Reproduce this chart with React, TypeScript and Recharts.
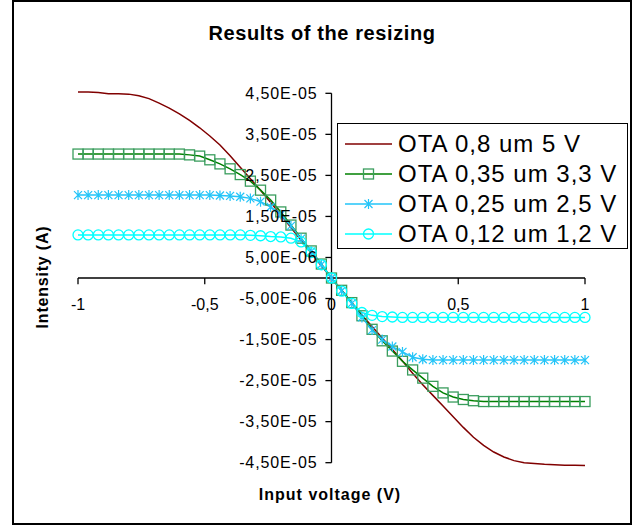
import { LineChart, Line, XAxis, YAxis, ReferenceLine, ReferenceDot } from "recharts";

// input voltage (V)
const voltage = [
  -1, -0.96, -0.92, -0.88, -0.84, -0.8, -0.76, -0.72, -0.68, -0.64, -0.6, -0.56, -0.52,
  -0.48, -0.44, -0.4, -0.36, -0.32, -0.28, -0.24, -0.2, -0.16, -0.12, -0.08, -0.04, 0,
  0.04, 0.08, 0.12, 0.16, 0.2, 0.24, 0.28, 0.32, 0.36, 0.4, 0.44, 0.48, 0.52, 0.56,
  0.6, 0.64, 0.68, 0.72, 0.76, 0.8, 0.84, 0.88, 0.92, 0.96, 1,
];

// output current, in units of 1E-05 A
const ota08 = [
  4.53, 4.53, 4.52, 4.49, 4.49, 4.48, 4.44, 4.37, 4.26, 4.14, 4.0, 3.84, 3.66,
  3.46, 3.24, 2.98, 2.7, 2.42, 2.14, 1.84, 1.54, 1.23, 0.92, 0.61, 0.3, 0,
  -0.3, -0.6, -0.9, -1.18, -1.46, -1.74, -2.02, -2.32, -2.6, -2.86, -3.12, -3.38, -3.64,
  -3.88, -4.08, -4.24, -4.36, -4.45, -4.5, -4.52, -4.54, -4.55, -4.56, -4.56, -4.57,
];
const ota035 = [
  3.02, 3.02, 3.02, 3.02, 3.02, 3.02, 3.02, 3.02, 3.02, 3.02, 3.02, 3.0, 2.97,
  2.88, 2.78, 2.66, 2.52, 2.36, 2.14, 1.9, 1.61, 1.29, 0.97, 0.66, 0.34, 0,
  -0.3, -0.6, -0.92, -1.25, -1.53, -1.78, -2.03, -2.24, -2.44, -2.64, -2.8, -2.9, -2.96,
  -2.99, -3.01, -3.01, -3.01, -3.01, -3.01, -3.01, -3.01, -3.01, -3.01, -3.01, -3.01,
];
const ota025 = [
  2.02, 2.02, 2.02, 2.02, 2.02, 2.02, 2.02, 2.02, 2.02, 2.02, 2.02, 2.02, 2.02,
  2.02, 2.01, 2.0, 1.98, 1.94, 1.86, 1.73, 1.55, 1.27, 0.96, 0.65, 0.33, 0,
  -0.31, -0.62, -0.96, -1.27, -1.5, -1.67, -1.8, -1.93, -1.98, -2.0, -2.0, -2.0, -2.0,
  -2.0, -2.0, -2.0, -2.0, -2.0, -2.0, -2.0, -2.0, -2.0, -2.0, -2.0, -2.0,
];
const ota012 = [
  1.05, 1.05, 1.05, 1.05, 1.05, 1.05, 1.05, 1.05, 1.05, 1.05, 1.05, 1.05, 1.05,
  1.05, 1.05, 1.05, 1.05, 1.04, 1.03, 1.01, 1.0, 0.97, 0.88, 0.62, 0.32, 0,
  -0.32, -0.62, -0.84, -0.91, -0.94, -0.95, -0.96, -0.96, -0.96, -0.96, -0.96, -0.96, -0.96,
  -0.96, -0.96, -0.96, -0.96, -0.96, -0.96, -0.96, -0.96, -0.96, -0.96, -0.96, -0.96,
];

const xTicks = [-1, -0.5, 0, 0.5, 1];
const yTicks = [4.5, 3.5, 2.5, 1.5, 0.5, -0.5, -1.5, -2.5, -3.5, -4.5];

const series = [
  { key: "ota08", name: "OTA 0,8 um 5 V", color: "#800000", marker: "none", markerColor: "#800000" },
  { key: "ota035", name: "OTA 0,35 um 3,3 V", color: "#008000", marker: "square", markerColor: "#3a9d5d" },
  { key: "ota025", name: "OTA 0,25 um 2,5 V", color: "#22c4f8", marker: "star", markerColor: "#22c4f8" },
  { key: "ota012", name: "OTA 0,12 um 1,2 V", color: "#00ffff", marker: "circle", markerColor: "#00ffff" },
];

const data = voltage.map((x, i) => ({
  x,
  ota08: ota08[i],
  ota035: ota035[i],
  ota025: ota025[i],
  ota012: ota012[i],
}));

const FONT = "'Liberation Sans', Arial, sans-serif";

const fmtY = (v: number) => {
  const [m, e] = (v * 1e-5).toExponential(2).split("e");
  const sign = e[0] === "-" ? "-" : "+";
  const digits = e.replace(/[-+]/, "").padStart(2, "0");
  return `${m.replace(".", ",")}E${sign === "-" ? "-" : "+"}${digits}`;
};
const fmtX = (v: number) => String(v).replace(".", ",");

const markerShape = (kind: string, color: string, cx: number, cy: number, key?: string) => {
  if (kind === "square")
    return <rect key={key} x={cx - 5} y={cy - 5} width={10} height={10} fill="none" stroke={color} strokeWidth={1.3} />;
  if (kind === "circle")
    return <circle key={key} cx={cx} cy={cy} r={5} fill="none" stroke={color} strokeWidth={1.3} />;
  if (kind === "star")
    return (
      <path
        key={key}
        d={`M${cx},${cy - 5}L${cx},${cy + 5}M${cx - 4},${cy - 4}L${cx + 4},${cy + 4}M${cx - 4},${cy + 4}L${cx + 4},${cy - 4}`}
        stroke={color}
        strokeWidth={1.2}
        fill="none"
      />
    );
  return <g key={key} />;
};

const makeDot = (kind: string, color: string) => (props: any) => {
  const { cx, cy, index } = props;
  if (cx == null || cy == null) return <g key={`n-${index}`} />;
  return markerShape(kind, color, cx, cy, `${kind}-${index}`);
};

const LegendBox = () => (
  <div
    style={{
      position: "absolute",
      left: 337,
      top: 123,
      width: 291,
      height: 126,
      border: "1px solid #000",
      boxSizing: "border-box",
      background: "#fff",
      paddingTop: 5,
    }}
  >
    {series.map((s) => (
      <div key={s.key} style={{ display: "flex", alignItems: "center", height: 30 }}>
        <svg width={47} height={30} style={{ marginLeft: 7, flex: "none" }}>
          <line x1={0} y1={15} x2={47} y2={15} stroke={s.color} strokeWidth={1.5} />
          {markerShape(s.marker, s.markerColor, 23.5, 15)}
        </svg>
        <span style={{ marginLeft: 6, fontSize: 24, letterSpacing: 1, fontFamily: FONT, whiteSpace: "nowrap", lineHeight: "30px" }}>
          {s.name}
        </span>
      </div>
    ))}
  </div>
);

export default function App() {
  return (
    <div style={{ position: "absolute", left: 0, top: 0, width: 635, height: 528, background: "#fff", fontFamily: FONT }}>
      <LineChart width={635} height={528} data={data} margin={{ top: 81, right: 50, bottom: 53, left: 78 }}>
        <XAxis dataKey="x" type="number" domain={[-1, 1]} hide />
        <YAxis type="number" domain={[-4.8, 4.8]} allowDataOverflow hide />
        <ReferenceLine y={0} stroke="#000" strokeWidth={1.3} />
        <ReferenceLine segment={[{ x: 0, y: -4.5 }, { x: 0, y: 4.5 }]} stroke="#000" strokeWidth={1.3} />
        {xTicks.map((t) => (
          <ReferenceLine key={`xt-${t}`} segment={[{ x: t, y: 0 }, { x: t, y: -0.15 }]} stroke="#000" strokeWidth={1.3} />
        ))}
        {yTicks.map((t) => (
          <ReferenceLine key={`yt-${t}`} segment={[{ x: 0, y: t }, { x: -0.024, y: t }]} stroke="#000" strokeWidth={1.3} />
        ))}
        {xTicks.map((t) => (
          <ReferenceDot
            key={`xl-${t}`}
            x={t}
            y={0}
            r={1}
            fill="none"
            stroke="none"
            label={{ value: fmtX(t), position: "bottom", offset: 20, fill: "#000", fontSize: 16, fontFamily: FONT }}
          />
        ))}
        {yTicks.map((t) => (
          <ReferenceDot
            key={`yl-${t}`}
            x={0}
            y={t}
            r={1}
            fill="none"
            stroke="none"
            label={{ value: fmtY(t), position: "left", offset: 13, fill: "#000", fontSize: 16, letterSpacing: 0.9, fontFamily: FONT }}
          />
        ))}
        {series.map((s) => (
          <Line
            key={s.key}
            dataKey={s.key}
            name={s.name}
            stroke={s.color}
            strokeWidth={1.5}
            dot={s.marker === "none" ? false : makeDot(s.marker, s.markerColor)}
            activeDot={false}
            isAnimationActive={false}
          />
        ))}
      </LineChart>

      <div
        style={{
          position: "absolute",
          left: 12,
          top: 0,
          width: 620,
          height: 525,
          border: "2px solid #000",
          boxSizing: "border-box",
          pointerEvents: "none",
        }}
      />
      <div
        style={{
          position: "absolute",
          left: 12,
          width: 620,
          top: 21,
          textAlign: "center",
          fontWeight: "bold",
          fontSize: 20,
          letterSpacing: 0.6,
          lineHeight: "24px",
        }}
      >
        Results of the resizing
      </div>
      <div
        style={{
          position: "absolute",
          left: 330,
          top: 495,
          transform: "translate(-50%, -50%)",
          fontWeight: "bold",
          fontSize: 16,
          letterSpacing: 1,
          whiteSpace: "nowrap",
        }}
      >
        Input voltage (V)
      </div>
      <div
        style={{
          position: "absolute",
          left: 43,
          top: 277,
          transform: "translate(-50%, -50%) rotate(-90deg)",
          fontWeight: "bold",
          fontSize: 16,
          letterSpacing: 0.8,
          whiteSpace: "nowrap",
        }}
      >
        Intensity (A)
      </div>
      <LegendBox />
    </div>
  );
}
